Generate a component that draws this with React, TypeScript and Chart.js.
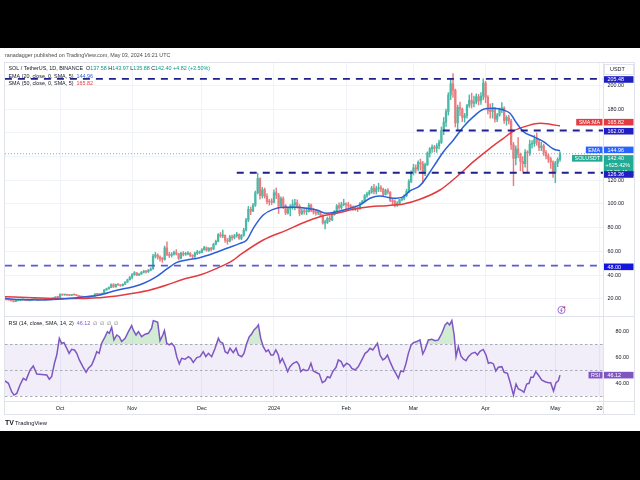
import React, { useEffect, useRef } from "react";
import { Chart, registerables } from "chart.js";

Chart.register(...registerables);

const FONT = '"Liberation Sans", Arial, sans-serif';
const FS = 5.4;

// ---------- DATA (daily candles, day 0 = 2023-09-07) ----------
const firstOpen = 20.1;
const closes: number[] = [
  // Sep
  19.95, 19.12, 19.10, 18.27, 17.60, 18.48, 18.64, 19.05, 19.06, 18.72, 18.42, 18.95, 19.40, 19.78, 19.12, 19.28, 19.33, 18.97, 19.42, 19.22, 19.60, 20.64, 21.30, 21.28,
  // Oct
  23.72, 23.26, 23.52, 23.10, 22.92, 23.44, 23.32, 22.96, 21.92, 21.62, 21.38, 21.16, 21.40, 21.82, 22.30, 24.06, 23.74, 23.62, 24.58, 27.40, 28.50, 29.60, 32.00, 30.10, 32.00, 31.80, 31.00, 32.30, 34.00, 36.10, 38.30,
  // Nov
  40.40, 42.00, 40.10, 40.90, 42.40, 43.30, 42.80, 44.20, 45.20, 55.90, 57.00, 55.20, 53.80, 53.20, 62.90, 57.40, 56.60, 57.60, 59.00, 57.90, 54.20, 58.40, 57.50, 57.90, 58.40, 56.50, 55.90, 58.50, 59.00, 59.10,
  // Dec
  61.40, 63.20, 61.00, 62.60, 61.90, 66.00, 68.40, 74.20, 73.00, 73.50, 69.50, 68.60, 72.20, 71.60, 73.20, 74.30, 71.00, 73.60, 78.00, 86.50, 95.50, 94.00, 99.00, 109.50, 121.50, 107.00, 112.00, 106.50, 102.00, 101.70, 101.50,
  // Jan
  109.50, 107.50, 98.30, 104.50, 98.80, 92.50, 96.00, 97.50, 99.50, 101.00, 98.00, 92.00, 94.00, 93.50, 93.80, 99.00, 94.50, 93.00, 92.50, 93.00, 90.50, 84.00, 84.50, 88.00, 86.80, 91.00, 93.50, 98.50, 97.00, 99.50, 100.20,
  // Feb
  99.50, 98.50, 97.50, 95.80, 96.50, 96.00, 100.50, 102.50, 107.00, 108.50, 110.00, 113.50, 110.50, 113.00, 113.70, 112.50, 108.00, 111.50, 110.00, 103.00, 102.00, 99.50, 100.50, 103.50, 104.50, 107.00, 110.50, 119.00, 126.50,
  // Mar
  130.50, 129.50, 135.00, 134.00, 125.50, 133.00, 143.00, 146.50, 148.00, 147.00, 149.00, 152.00, 162.00, 169.00, 178.00, 192.00, 201.50, 196.00, 168.50, 181.50, 180.00, 173.00, 174.50, 183.00, 187.50, 185.00, 186.00, 190.50, 187.00, 191.00, 202.00,
  // Apr
  190.00, 179.00, 178.00, 180.50, 171.50, 175.00, 179.50, 181.00, 170.50, 173.00, 170.00, 150.00, 138.50, 146.50, 142.00, 136.00, 134.00, 143.50, 143.00, 150.50, 151.00, 154.50, 152.00, 147.50, 149.00, 143.50, 140.50, 138.00, 135.50, 126.50,
  // May
  134.50, 137.58, 142.40,
];
const highs: number[] = [
  20.30, 20.10, 19.35, 19.20, 18.40, 18.80, 18.95, 19.30, 19.40, 19.15, 18.85, 19.10, 19.70, 20.10, 19.90, 19.45, 19.45, 19.40, 19.60, 19.55, 19.80, 20.90, 21.80, 21.70,
  24.20, 23.90, 23.80, 23.60, 23.30, 23.70, 23.60, 23.40, 23.00, 22.10, 21.80, 21.60, 21.60, 22.00, 22.50, 24.50, 24.30, 24.00, 24.90, 28.00, 29.00, 30.20, 32.70, 32.80, 32.50, 32.60, 31.90, 32.60, 34.50, 36.60, 38.80,
  41.30, 43.00, 42.20, 41.30, 43.00, 44.00, 43.80, 44.80, 46.20, 57.50, 59.20, 58.00, 56.30, 55.00, 64.50, 68.00, 59.30, 59.00, 60.20, 61.50, 58.50, 59.50, 59.80, 59.30, 59.80, 59.00, 57.20, 59.50, 61.00, 60.30,
  62.30, 64.20, 63.80, 63.20, 63.50, 66.80, 69.50, 75.00, 76.00, 78.00, 74.00, 71.00, 73.50, 73.80, 74.50, 76.00, 74.80, 74.20, 79.50, 88.00, 98.00, 97.50, 100.50, 111.00, 126.00, 122.00, 114.00, 113.50, 108.50, 104.00, 104.50,
  112.00, 113.50, 109.00, 106.00, 106.00, 99.50, 97.50, 99.50, 103.50, 104.00, 103.50, 99.50, 96.00, 96.50, 97.00, 100.50, 100.00, 96.50, 95.00, 94.50, 94.00, 91.00, 86.50, 89.00, 90.00, 92.50, 94.50, 99.50, 101.00, 101.50, 104.00,
  101.00, 101.50, 99.50, 98.50, 98.50, 97.50, 101.50, 103.00, 108.00, 110.00, 111.50, 115.00, 116.50, 115.00, 117.50, 115.50, 113.50, 112.50, 113.00, 110.50, 104.50, 103.50, 102.00, 104.00, 105.50, 108.00, 112.50, 120.50, 128.00,
  133.50, 133.00, 136.50, 138.00, 136.00, 134.50, 144.00, 147.50, 150.00, 149.50, 151.00, 154.00, 165.00, 173.00, 180.00, 194.00, 206.00, 210.00, 197.00, 183.50, 186.00, 181.00, 176.50, 184.00, 192.00, 193.50, 191.00, 193.00, 192.50, 194.00, 205.50,
  203.50, 191.50, 184.50, 185.00, 181.50, 176.50, 181.00, 185.50, 182.00, 174.50, 175.00, 171.50, 152.00, 149.00, 156.00, 143.00, 140.00, 146.00, 145.00, 154.00, 153.50, 158.00, 160.00, 154.00, 152.00, 150.50, 145.00, 142.00, 139.50, 136.50,
  136.00, 139.00, 143.97,
];
const lows: number[] = [
  19.70, 19.00, 18.95, 18.15, 17.30, 17.50, 18.30, 18.50, 18.80, 18.55, 18.30, 18.20, 18.85, 19.30, 18.95, 19.00, 19.15, 18.85, 18.90, 19.05, 19.10, 19.50, 20.50, 21.00,
  21.10, 22.90, 23.00, 22.80, 22.60, 22.80, 23.00, 22.70, 21.70, 21.40, 21.10, 20.90, 21.00, 21.30, 21.70, 22.20, 23.30, 23.20, 23.40, 24.40, 27.20, 28.10, 29.40, 29.60, 29.90, 31.20, 30.60, 30.80, 32.10, 33.80, 35.80,
  36.70, 39.80, 39.50, 39.60, 40.60, 41.80, 41.60, 42.20, 43.60, 45.00, 54.40, 53.40, 51.80, 50.80, 52.60, 56.30, 54.80, 55.20, 56.80, 56.90, 52.80, 53.60, 56.20, 56.60, 57.00, 55.50, 54.00, 54.80, 57.20, 58.00,
  58.80, 61.00, 60.20, 60.00, 60.50, 61.50, 65.50, 68.00, 71.80, 71.50, 67.50, 66.00, 68.00, 69.50, 70.50, 72.00, 70.20, 69.80, 72.80, 77.00, 85.00, 91.00, 93.50, 98.00, 108.50, 104.00, 105.00, 105.00, 100.00, 99.00, 99.50,
  101.00, 104.50, 92.00, 97.00, 96.00, 91.00, 91.50, 90.00, 95.50, 95.00, 96.50, 90.00, 91.00, 91.50, 91.00, 93.00, 93.50, 91.50, 90.50, 91.00, 90.00, 83.00, 79.00, 83.50, 85.00, 86.00, 90.50, 93.00, 95.50, 95.50, 98.50,
  95.00, 96.00, 96.00, 94.50, 94.50, 93.50, 95.50, 100.00, 101.50, 105.50, 107.50, 109.00, 108.50, 108.50, 110.50, 110.50, 107.00, 107.50, 108.50, 102.00, 99.50, 97.50, 98.00, 99.50, 102.50, 103.50, 106.00, 109.50, 118.00,
  124.50, 126.00, 128.00, 128.50, 117.50, 124.00, 132.50, 139.50, 143.50, 144.00, 143.50, 146.50, 151.00, 158.50, 165.50, 175.00, 188.00, 190.00, 165.00, 162.00, 174.50, 169.50, 169.00, 172.50, 181.50, 181.00, 182.00, 184.50, 183.50, 184.00, 188.00,
  185.50, 176.00, 172.50, 172.50, 169.00, 169.50, 174.00, 177.00, 168.00, 166.50, 167.50, 146.00, 115.50, 133.00, 139.00, 128.00, 127.00, 131.00, 126.50, 141.00, 147.00, 148.50, 149.50, 145.00, 145.00, 141.00, 138.00, 135.00, 130.00, 122.50,
  118.00, 131.50, 135.88,
];

// EMA (20): day index / value
const emaDays: number[] = [0.3, 7, 15, 23, 33, 41, 48, 55.5, 60, 65.5, 70, 74, 78.5, 84, 90, 95.7, 101.4, 104.3, 107.1, 111.4, 115.7, 120, 125.8, 130.1, 134.4, 138.7, 143, 147.3, 153, 157.3, 161.6, 167.4, 171.7, 174.5, 178.8, 184.6, 188.9, 193.2, 197.5, 201.8, 206.1, 210.4, 214.7, 217.5, 220.4, 223.3, 227.6, 231.9, 236.2, 239];
const emaVals: number[] = [20.2, 19.4, 19.1, 19.6, 21.3, 23.2, 27.0, 30.2, 33.1, 38.7, 45.2, 50.5, 52.7, 54.7, 58.4, 62.6, 66.8, 69.6, 79.5, 90.7, 95.5, 97.2, 97.2, 96.3, 94.9, 92.1, 93.5, 95.5, 99.2, 104.8, 106.8, 104.8, 106.2, 111.0, 115.5, 131.5, 144.1, 154.0, 165.2, 173.7, 179.9, 180.8, 179.3, 176.5, 168.1, 161.0, 156.8, 152.6, 146.4, 144.96];

// SMA (50)
const smaDays: number[] = [0.3, 12.5, 23.3, 34, 41.2, 48.4, 55.5, 62.7, 69.9, 77, 84.2, 91.4, 98.5, 101.4, 111.4, 121.5, 128.6, 135.8, 143, 150.2, 157.3, 164.5, 171.7, 178.8, 187.4, 194.6, 201.8, 208.9, 214.7, 219, 224.7, 230.4, 234.7, 239];
const smaVals: number[] = [21.8, 21.0, 20.3, 20.2, 21.0, 22.4, 24.6, 27.4, 31.6, 36.5, 40.1, 45.7, 52.7, 57.0, 69.6, 78.0, 84.2, 89.3, 92.1, 95.5, 97.7, 98.6, 100.0, 104.0, 111.8, 123.0, 135.7, 147.0, 155.4, 161.6, 165.8, 168.1, 167.3, 165.82];

// RSI (14)
const rsiDays: number[] = [0.3, 1.8, 3.2, 4.2, 5.4, 6.8, 8.2, 9.4, 11.1, 12.5, 14, 16.1, 18.3, 19.4, 20.4, 21.6, 22.6, 23.7, 24.7, 25.7, 26.9, 27.9, 29, 30.2, 31.2, 32.3, 33.8, 35.2, 36.2, 37.6, 38.8, 39.8, 40.8, 41.9, 43.4, 44.4, 45.2, 46.2, 47.2, 48.4, 49.5, 50.5, 52, 53.4, 54.8, 55.5, 56.7, 57.7, 59.1, 60.6, 62, 63.4, 64.1, 65.2, 66, 67, 68.2, 68.9, 69.9, 71, 72, 73.2, 74.2, 75.3, 76.3, 77.8, 79.2, 80.2, 81.3, 82.8, 84.2, 85.6, 86.7, 87.8, 89.2, 90.7, 92.1, 92.8, 94, 95, 96.1, 97.1, 98.5, 99.7, 100.7, 102.1, 103.1, 104.3, 105.4, 106.4, 107.4, 108.6, 109.3, 110.3, 111.4, 112.6, 113.6, 114.7, 115.7, 116.8, 117.9, 118.6, 119.6, 120.8, 121.9, 122.9, 124.3, 125.8, 126.8, 127.5, 128.6, 129.8, 130.8, 131.9, 132.9, 134.4, 135.5, 136.8, 138, 139, 140.1, 141.3, 142.7, 143.7, 144.9, 145.9, 147.3, 148.5, 149.5, 150.9, 152.3, 153.8, 155.2, 156.2, 157.3, 158.5, 159.5, 160.5, 161.6, 162.8, 163.8, 164.8, 165.9, 167.4, 168.4, 169.5, 170.5, 171.7, 172.8, 173.8, 175, 176, 177.4, 178.8, 180, 181, 182.4, 183.9, 185.3, 186.7, 188.2, 189.6, 190.6, 191.5, 192.5, 193.5, 194.3, 195.3, 196.4, 197.5, 198.6, 199.6, 201.1, 202.5, 203.5, 204.6, 206, 207.2, 208.2, 209.2, 210.4, 211.4, 212.5, 214, 215, 216.4, 217.5, 219, 220.1, 221.1, 222.6, 223.5, 224.7, 225.7, 226.5, 227.5, 228.6, 229.7, 231.1, 232.6, 234, 235, 236.2, 237.3, 238.3, 239];
const rsiVals: number[] = [41.6, 39.8, 33.3, 30.7, 32, 38.5, 43.6, 42.3, 50, 53.2, 47, 46.7, 46.2, 43, 45, 55.3, 61.7, 74.6, 70.8, 71.3, 66.9, 63, 66.1, 65.6, 63, 57.9, 52.7, 48.3, 51.4, 54, 59.1, 64.3, 63, 70.8, 75.9, 79.8, 78.5, 83.2, 73.4, 77.2, 75.9, 72.1, 74.7, 79.8, 84.5, 81.1, 77.2, 79.8, 75.9, 77.8, 78.5, 82.4, 88.3, 87.6, 87.1, 72.8, 77.2, 80.6, 70.8, 69.5, 70.8, 68.2, 60.4, 54.8, 59.1, 58.4, 60.4, 59.1, 56, 59.7, 60.4, 64.3, 60.4, 63, 60.4, 66.9, 74.7, 72.1, 70.8, 64.3, 63, 66.9, 63.5, 66.9, 61.7, 60.4, 63, 70.8, 75.9, 78, 81.1, 83.2, 85, 74.7, 68.2, 64.3, 65.6, 61.7, 61.7, 65.6, 61.7, 55.8, 59.1, 54, 48.8, 52.7, 55.3, 56.6, 54, 48.8, 50.6, 49.6, 50.1, 55.3, 49.3, 48, 47, 40.3, 41.6, 44.9, 44.1, 48.8, 52.2, 57.9, 56.6, 52.7, 55.3, 54, 51.4, 50.1, 52.7, 57.9, 63, 64.3, 66.9, 65.6, 68.2, 70.8, 61.7, 57.9, 59.1, 61.7, 56.6, 50.6, 47.5, 43.6, 49.3, 48.8, 55.3, 63, 69.5, 71.3, 72.1, 73.4, 62.5, 66.1, 73.4, 73.9, 72.8, 73.4, 78.5, 85, 86.8, 85, 88.3, 77.2, 60.4, 68.2, 61, 58.4, 57.3, 60.4, 63, 63.8, 61.7, 64.5, 66, 61.7, 55.3, 55.8, 54.8, 49.3, 52.2, 52.7, 48.3, 47.5, 41, 30.7, 39.2, 35.4, 34.1, 32.8, 39.2, 39.8, 44.4, 44.4, 48.8, 46.2, 42.4, 41, 40.3, 40.3, 33.8, 40.3, 41.8, 46.12];

// horizontal levels drawn on the chart
const levelValues: number[] = [205.48, 162.0, 126.36, 48.0];
const levelStartDays: number[] = [0.3, 177.4, 100.0, 0.3];

const priceTicks: number[] = [20, 40, 60, 80, 100, 120, 140, 160, 180, 200];
const hiddenPriceTicks: number[] = [140, 160];
const rsiTicks: number[] = [40, 60, 80];
const rsiBands: number[] = [70, 50, 30];
const monthTickDays: number[] = [24, 55, 85, 116, 147, 176, 207, 237, 256];
const monthTickLabels: string[] = ["Oct", "Nov", "Dec", "2024", "Feb", "Mar", "Apr", "May", "20"];

const headerText = "ranadagger published on TradingView.com, May 03, 2024 16:21 UTC";
const pctSinceText = "+625.42%";
const countdownText = "07:38:46";

// ---------- layout / style ----------
const X_MIN = 0.34, X_MAX = 257.5;
const PRICE_MIN = 5.5, PRICE_MAX = 219.8;
const RSI_MIN = 26.1, RSI_MAX = 91.9;

const GREEN = "#4cb8a6";
const RED = "#ea7b7e";
const DARK = "#131722";
const TEAL = "#089981";
const EMA_C = "#2c5fd6";
const SMA_C = "#e23b40";
const LEVEL_C = ["#20208c", "#20208c", "#20208c", "#5a5ad4"];
const LEVEL_BOX = ["#1f1fc2", "#1f1fc2", "#1f1fc2", "#1515e0"];
const GRID = "#f0f3fa";
const FRAME = "#e0e3eb";
const PURPLE = "#7e57c2";

const fmt = (v: number) => v.toFixed(2);

function seg(ctx: CanvasRenderingContext2D, x: number, y: number, parts: [string, string][]) {
  let cx = x;
  for (const [t, c] of parts) {
    ctx.fillStyle = c;
    ctx.fillText(t, cx, y);
    cx += ctx.measureText(t).width;
  }
}

function valueBox(ctx: CanvasRenderingContext2D, yc: number, text: string, bg: string, h = 6.6) {
  ctx.fillStyle = bg;
  ctx.fillRect(603.5, yc - h / 2, 30, h);
  ctx.fillStyle = "#fff";
  ctx.fillText(text, 607.5, yc + 0.3);
}

function tagBox(ctx: CanvasRenderingContext2D, yc: number, text: string, bg: string, h = 6.6) {
  const w = ctx.measureText(text).width + 5;
  ctx.fillStyle = bg;
  ctx.fillRect(602.5 - w, yc - h / 2, w, h);
  ctx.fillStyle = "#fff";
  ctx.fillText(text, 602.5 - w + 2.5, yc + 0.3);
}

export default function App() {
  const mainRef = useRef<HTMLCanvasElement | null>(null);
  const rsiRef = useRef<HTMLCanvasElement | null>(null);

  useEffect(() => {
    const opens = closes.map((c, i) => (i === 0 ? firstOpen : closes[i - 1]));
    const colors = closes.map((c, i) => (c >= opens[i] ? GREEN : RED));
    const last = closes.length - 1;
    const lastO = opens[last], lastH = highs[last], lastL = lows[last], lastC = closes[last];
    const chg = lastC - lastO;
    const pct = (chg / lastO) * 100;
    const emaLast = emaVals[emaVals.length - 1];
    const smaLast = smaVals[smaVals.length - 1];
    const rsiLast = rsiVals[rsiVals.length - 1];

    const levelSets = levelValues.map((v, i) => ({
      type: "line",
      label: "lvl" + i,
      data: [{ x: levelStartDays[i], y: v }, { x: X_MAX, y: v }],
      borderColor: LEVEL_C[i],
      borderWidth: i === 3 ? 1.6 : 1.8,
      borderDash: [7, 6],
      pointRadius: 0,
      order: 1,
    }));

    const mainOverlay = {
      id: "mainOverlay",
      afterDraw(chart: any) {
        const ctx: CanvasRenderingContext2D = chart.ctx;
        const ys = chart.scales.y;
        ctx.save();
        ctx.textBaseline = "middle";
        ctx.textAlign = "left";
        ctx.font = `${FS}px ${FONT}`;
        ctx.fillStyle = "#4a4a4a";
        ctx.fillText(headerText, 5, 55.5);

        seg(ctx, 8.5, 69, [
          ["SOL / TetherUS, 1D, BINANCE", DARK],
          ["  O", DARK], [fmt(lastO), TEAL],
          [" H", DARK], [fmt(lastH), TEAL],
          [" L", DARK], [fmt(lastL), TEAL],
          [" C", DARK], [fmt(lastC), TEAL],
          [` +${fmt(chg)} (+${fmt(pct)}%)`, TEAL],
        ]);
        seg(ctx, 8.5, 76.3, [["EMA (20, close, 0, SMA, 5)", DARK], ["  " + fmt(emaLast), EMA_C]]);
        seg(ctx, 8.5, 83.4, [["SMA (50, close, 0, SMA, 5)", DARK], ["  " + fmt(smaLast), SMA_C]]);

        // USDT box
        ctx.fillStyle = "#fff";
        ctx.strokeStyle = FRAME;
        ctx.lineWidth = 1;
        ctx.fillRect(604.5, 64.5, 29, 10);
        ctx.strokeRect(604.5, 64.5, 29, 10);
        ctx.fillStyle = DARK;
        ctx.fillText("USDT", 610, 69.7);

        // axis value boxes
        const yL = levelValues.map((v) => ys.getPixelForValue(v));
        valueBox(ctx, yL[0] + 0.5, fmt(levelValues[0]), LEVEL_BOX[0]);
        const ySma = ys.getPixelForValue(smaLast) - 3.8;
        valueBox(ctx, ySma, fmt(smaLast), SMA_C);
        tagBox(ctx, ySma, "SMA:MA", SMA_C);
        valueBox(ctx, yL[1] + 0.7, fmt(levelValues[1]), LEVEL_BOX[1]);
        const yEma = ys.getPixelForValue(emaLast) - 0.8;
        valueBox(ctx, yEma, fmt(emaLast), "#2962ff");
        tagBox(ctx, yEma, "EMA", "#2962ff");
        // price box (3 lines)
        const pTop = ys.getPixelForValue(lastC) + 1.4;
        ctx.fillStyle = "#22ab94";
        ctx.fillRect(603.5, pTop, 30, 21);
        ctx.fillStyle = "#fff";
        ctx.fillText(fmt(lastC), 607.5, pTop + 3.4);
        ctx.fillText(pctSinceText, 605.5, pTop + 10.4);
        ctx.fillText(countdownText, 606.5, pTop + 17.3);
        tagBox(ctx, pTop + 3.2, "SOLUSDT", "#22ab94");
        valueBox(ctx, yL[2] + 1.7, fmt(levelValues[2]), LEVEL_BOX[2]);
        valueBox(ctx, yL[3] + 1.2, fmt(levelValues[3]), LEVEL_BOX[3]);

        // lightning icon
        ctx.strokeStyle = "#8e63ce";
        ctx.lineWidth = 0.9;
        ctx.beginPath();
        ctx.arc(561.5, 310, 3.6, 0, Math.PI * 2);
        ctx.stroke();
        ctx.beginPath();
        ctx.moveTo(562.4, 307.6);
        ctx.lineTo(560.6, 310.3);
        ctx.lineTo(562.2, 310.3);
        ctx.lineTo(560.8, 312.6);
        ctx.stroke();
        ctx.fillStyle = "#f23645";
        ctx.beginPath();
        ctx.arc(564.4, 307.3, 1.1, 0, Math.PI * 2);
        ctx.fill();
        ctx.restore();
      },
    };

    const main = new Chart(mainRef.current as HTMLCanvasElement, {
      type: "bar",
      data: {
        datasets: [
          {
            type: "line",
            label: "last",
            data: [{ x: X_MIN, y: lastC }, { x: X_MAX, y: lastC }],
            borderColor: "rgba(8,153,129,0.6)",
            borderWidth: 1,
            borderDash: [1, 2],
            pointRadius: 0,
            order: 6,
          },
          {
            type: "bar",
            label: "wicks",
            data: closes.map((c, i) => ({ x: i, y: [lows[i], highs[i]] })),
            backgroundColor: colors,
            barThickness: 0.8,
            grouped: false,
            order: 5,
          },
          {
            type: "bar",
            label: "bodies",
            data: closes.map((c, i) => ({ x: i, y: [opens[i], c] })),
            backgroundColor: colors,
            barThickness: 1.6,
            minBarLength: 1,
            grouped: false,
            order: 4,
          },
          {
            type: "line",
            label: "SMA",
            data: smaDays.map((d, i) => ({ x: d, y: smaVals[i] })),
            borderColor: SMA_C,
            borderWidth: 1.5,
            pointRadius: 0,
            cubicInterpolationMode: "monotone",
            order: 3,
          },
          {
            type: "line",
            label: "EMA",
            data: emaDays.map((d, i) => ({ x: d, y: emaVals[i] })),
            borderColor: EMA_C,
            borderWidth: 1.5,
            pointRadius: 0,
            cubicInterpolationMode: "monotone",
            order: 2,
          },
          ...levelSets,
        ] as any,
      },
      options: {
        responsive: false,
        animation: false,
        devicePixelRatio: 1,
        events: [],
        layout: { padding: { left: 5, right: 5, top: 62, bottom: 164 } },
        plugins: { legend: { display: false }, tooltip: { enabled: false } },
        scales: {
          x: {
            type: "linear",
            min: X_MIN,
            max: X_MAX,
            offset: false,
            afterBuildTicks: (s: any) => {
              s.ticks = monthTickDays.map((v) => ({ value: v }));
            },
            afterFit: (s: any) => {
              s.height = 0;
            },
            ticks: { display: false },
            grid: { color: GRID, drawTicks: false, offset: false },
            border: { display: true, color: FRAME },
          },
          y: {
            type: "linear",
            position: "right",
            min: PRICE_MIN,
            max: PRICE_MAX,
            afterBuildTicks: (s: any) => {
              s.ticks = priceTicks.map((v) => ({ value: v }));
            },
            afterFit: (s: any) => {
              s.width = 32;
            },
            ticks: {
              callback: (v: any) => (hiddenPriceTicks.includes(Number(v)) ? "" : Number(v).toFixed(2)),
              font: { size: FS, family: FONT },
              color: DARK,
              padding: 4.5,
              autoSkip: false,
            },
            grid: { color: GRID, drawTicks: false },
            border: { display: true, color: FRAME },
          },
        },
      } as any,
      plugins: [mainOverlay],
    });

    const rsiOverlay = {
      id: "rsiOverlay",
      beforeDatasetsDraw(chart: any) {
        const ctx: CanvasRenderingContext2D = chart.ctx;
        const a = chart.chartArea;
        const y = chart.scales.y;
        const yTop = y.getPixelForValue(rsiBands[0]);
        const yBot = y.getPixelForValue(rsiBands[2]);
        ctx.save();
        ctx.fillStyle = "rgba(126,87,194,0.1)";
        ctx.fillRect(a.left, yTop, a.right - a.left, yBot - yTop);
        ctx.strokeStyle = "#a9abb8";
        ctx.lineWidth = 1;
        ctx.setLineDash([2.5, 2.5]);
        for (const b of rsiBands) {
          const yy = Math.round(y.getPixelForValue(b)) + 0.5;
          ctx.beginPath();
          ctx.moveTo(a.left, yy);
          ctx.lineTo(a.right, yy);
          ctx.stroke();
        }
        ctx.restore();
      },
      afterDraw(chart: any) {
        const ctx: CanvasRenderingContext2D = chart.ctx;
        const y = chart.scales.y;
        ctx.save();
        ctx.textBaseline = "middle";
        ctx.textAlign = "left";
        ctx.font = `${FS}px ${FONT}`;
        seg(ctx, 8.5, 324, [
          ["RSI (14, close, SMA, 14, 2)", DARK],
          ["  " + fmt(rsiLast), PURPLE],
          ["  \u2205  \u2205  \u2205  \u2205", "#6a6d78"],
        ]);
        const yr = y.getPixelForValue(rsiLast);
        valueBox(ctx, yr, fmt(rsiLast), PURPLE);
        tagBox(ctx, yr, "RSI", PURPLE);

        // frame
        ctx.strokeStyle = FRAME;
        ctx.lineWidth = 1;
        ctx.strokeRect(4.5, 62.5, 630, 352);
        ctx.beginPath();
        ctx.moveTo(4.5, 316.5); ctx.lineTo(634.5, 316.5);
        ctx.moveTo(4.5, 401.5); ctx.lineTo(634.5, 401.5);
        ctx.moveTo(603.5, 62.5); ctx.lineTo(603.5, 414.5);
        ctx.stroke();

        // TradingView logo
        ctx.fillStyle = DARK;
        ctx.font = `bold 7px ${FONT}`;
        ctx.fillText("TV", 5, 423);
        ctx.font = `5.8px ${FONT}`;
        ctx.fillText("TradingView", 15, 423);
        ctx.restore();
      },
    };

    const rsiPts = rsiDays.map((d, i) => ({ x: d, y: rsiVals[i] }));
    const rsi = new Chart(rsiRef.current as HTMLCanvasElement, {
      type: "line",
      data: {
        datasets: [
          {
            label: "RSI",
            data: rsiPts,
            borderColor: PURPLE,
            borderWidth: 1.5,
            pointRadius: 0,
            tension: 0,
            fill: { target: { value: 70 }, above: "rgba(76,175,80,0.25)", below: "rgba(0,0,0,0)" },
          },
          {
            label: "RSI-os",
            data: rsiPts,
            borderWidth: 0,
            borderColor: "rgba(0,0,0,0)",
            pointRadius: 0,
            tension: 0,
            fill: { target: { value: 30 }, above: "rgba(0,0,0,0)", below: "rgba(242,54,69,0.25)" },
          },
        ],
      },
      options: {
        responsive: false,
        animation: false,
        devicePixelRatio: 1,
        events: [],
        layout: { padding: { left: 5, right: 5, top: 316, bottom: 66 } },
        plugins: { legend: { display: false }, tooltip: { enabled: false } },
        scales: {
          x: {
            type: "linear",
            min: X_MIN,
            max: X_MAX,
            offset: false,
            afterBuildTicks: (s: any) => {
              s.ticks = monthTickDays.map((v) => ({ value: v }));
            },
            afterFit: (s: any) => {
              s.height = 13;
            },
            ticks: {
              callback: (v: any) => monthTickLabels[monthTickDays.indexOf(Number(v))] ?? "",
              font: { size: FS, family: FONT },
              color: DARK,
              padding: 4,
              maxRotation: 0,
              autoSkip: false,
            },
            grid: { color: GRID, drawTicks: false },
            border: { display: true, color: FRAME },
          },
          y: {
            type: "linear",
            position: "right",
            min: RSI_MIN,
            max: RSI_MAX,
            afterBuildTicks: (s: any) => {
              s.ticks = rsiTicks.map((v) => ({ value: v }));
            },
            afterFit: (s: any) => {
              s.width = 32;
            },
            ticks: {
              callback: (v: any) => Number(v).toFixed(2),
              font: { size: FS, family: FONT },
              color: DARK,
              padding: 4.5,
            },
            grid: { display: false },
            border: { display: true, color: FRAME },
          },
        },
      } as any,
      plugins: [rsiOverlay],
    });

    return () => {
      main.destroy();
      rsi.destroy();
    };
  }, []);

  return (
    <div style={{ position: "fixed", left: 0, top: 0, width: 640, height: 480, background: "#000", overflow: "hidden" }}>
      <div style={{ position: "absolute", left: 0, top: 48, width: 640, height: 383, background: "#fff" }} />
      <canvas ref={mainRef} width={640} height={480} style={{ position: "absolute", left: 0, top: 0 }} />
      <canvas ref={rsiRef} width={640} height={480} style={{ position: "absolute", left: 0, top: 0 }} />
    </div>
  );
}
